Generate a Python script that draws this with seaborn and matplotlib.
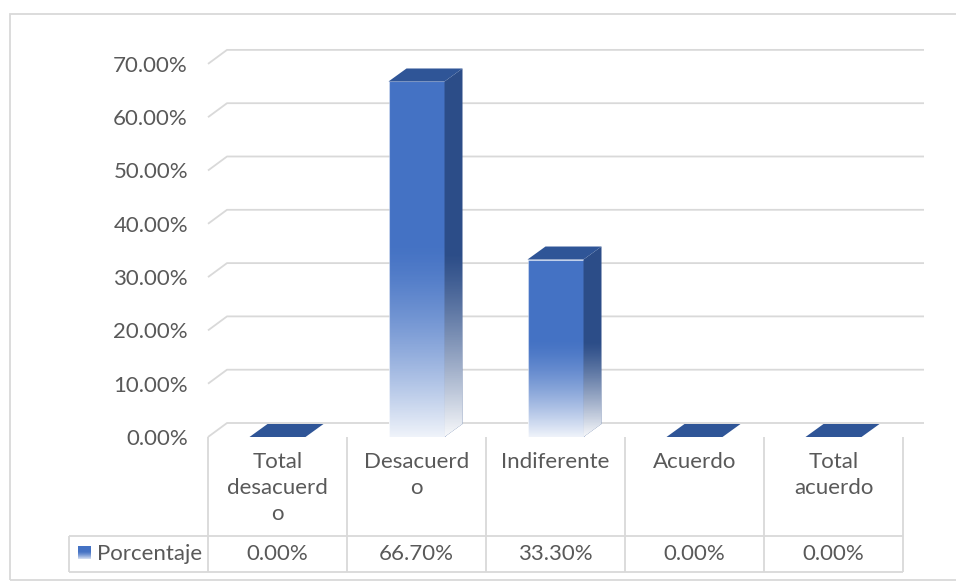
import numpy as np
import matplotlib
matplotlib.use("Agg")
import matplotlib.pyplot as plt
import seaborn as sns
import pandas as pd
from matplotlib.patches import Polygon, Rectangle

# ---- data ----
categories = ["Total desacuerdo", "Desacuerdo", "Indiferente", "Acuerdo", "Total acuerdo"]
category_labels = ["Total\ndesacuerd\no", "Desacuerd\no", "Indiferente", "Acuerdo", "Total\nacuerdo"]
values = [0.0, 66.7, 33.3, 0.0, 0.0]
value_labels = ["0.00%", "66.70%", "33.30%", "0.00%", "0.00%"]
series_name = "Porcentaje"
yticks = [0, 10, 20, 30, 40, 50, 60, 70]
ytick_labels = ["0.00%", "10.00%", "20.00%", "30.00%", "40.00%", "50.00%", "60.00%", "70.00%"]

# ---- style ----
sns.set_theme(style="white")
plt.rcParams["font.family"] = ["Lato", "DejaVu Sans"]
TXT = "#595959"
GRID = "#D9D9D9"
FRONT = "#4472C4"
SIDE = "#2C4D88"
TOP = "#2F5597"
FS = 16

W, H = 956, 582
fig = plt.figure(figsize=(W / 100, H / 100), dpi=100)
PX = 5.33            # pixels per percent
COLW = 139.0         # pixels per category
x_left, x_right = 208, 903
y0 = 437
ymax = 80
top_px = y0 - ymax * PX
ax = fig.add_axes([x_left / W, (H - y0) / H, (x_right - x_left) / W, (y0 - top_px) / H])

def py(px):
    return (y0 - px) / PX

def pxw(px):
    return px / COLW

df = pd.DataFrame({"cat": categories, "val": values})
sns.barplot(data=df, x="cat", y="val", color=FRONT, saturation=1, width=56 / COLW,
            edgecolor="none", ax=ax, zorder=3)
ax.set_xlim(-0.5, 4.5)
ax.set_ylim(0, ymax)

bdx = pxw(18)
bdy = 13 / PX

def white_fade(n=256, top_frac=0.55, amax=0.92, power=1.4):
    t = np.linspace(0, 1, n)
    s = np.clip((top_frac - t) / top_frac, 0, 1)
    a = s ** power * amax
    g = np.ones((n, 1, 4))
    g[:, 0, 3] = a
    return g

bars = list(ax.patches)
for p in bars:
    x0 = p.get_x(); w = p.get_width(); h = p.get_height()
    x1 = x0 + w
    side = Polygon([(x1, 0), (x1 + bdx, bdy), (x1 + bdx, h + bdy), (x1, h)],
                   closed=True, facecolor=SIDE, edgecolor="none", zorder=3, clip_on=False)
    ax.add_patch(side)
    top = Polygon([(x0, h), (x0 + bdx, h + bdy), (x1 + bdx, h + bdy), (x1, h)],
                  closed=True, facecolor=TOP, edgecolor="none", zorder=3.5, clip_on=False)
    ax.add_patch(top)
    if h > 0:
        im = ax.imshow(white_fade(), extent=[x0, x1, 0, h], origin="lower",
                       aspect="auto", zorder=3.2, interpolation="bilinear")
        im.set_clip_path(p)
        im2 = ax.imshow(white_fade(top_frac=0.5, amax=0.97, power=1.2),
                        extent=[x1, x1 + bdx, 0, h + bdy], origin="lower",
                        aspect="auto", zorder=3.2, interpolation="bilinear")
        im2.set_clip_path(side)
        p.set_edgecolor((1, 1, 1, 0.35)); p.set_linewidth(0.8)

ax.set_xlim(-0.5, 4.5)
ax.set_ylim(0, ymax)

# back wall gridlines with left-wall diagonal
wdx = pxw(19)
wdy = 14 / PX
xr = (924 - x_left) / COLW - 0.5
for v in yticks:
    ax.plot([-0.5, -0.5 + wdx, xr], [v, v + wdy, v + wdy], color=GRID, lw=1.3,
            clip_on=False, zorder=1, solid_capstyle="butt")

# y axis labels
ax.set_yticks(yticks)
ax.set_yticklabels(ytick_labels)
ax.tick_params(axis="y", length=0, pad=20 * 72 / 100, labelsize=FS, labelcolor=TXT)
ax.set_xticks([])
ax.set_xlabel("")
ax.set_ylabel("")
ax.grid(False)
sns.despine(ax=ax, left=True, bottom=True)

# data table
lk = dict(color=GRID, lw=1.3, clip_on=False, zorder=1, solid_capstyle="butt")
for k in range(6):
    xv = k - 0.5
    ax.plot([xv, xv], [py(437), py(572)], **lk)
ax.plot([-1.5, -1.5], [py(536), py(572)], **lk)
for yy in (536, 572):
    ax.plot([-1.5, 4.5], [py(yy), py(yy)], **lk)

for i, lab in enumerate(category_labels):
    ax.text(i, py(452), lab, ha="center", va="top", fontsize=FS, color=TXT,
            linespacing=1.38, clip_on=False)
for i, lab in enumerate(value_labels):
    ax.text(i, py(554), lab, ha="center", va="center", fontsize=FS, color=TXT, clip_on=False)

# legend key + series name
kx0 = -0.5 - pxw(208 - 78)
kx1 = -0.5 - pxw(208 - 91)
key = Rectangle((kx0, py(559)), kx1 - kx0, py(546) - py(559), facecolor=FRONT,
                edgecolor="none", clip_on=False, zorder=3)
ax.add_patch(key)
kim = ax.imshow(white_fade(top_frac=0.6, amax=0.8), extent=[kx0, kx1, py(559), py(546)],
                origin="lower", aspect="auto", zorder=3.2)
kim.set_clip_path(key)
ax.text(-0.5 - pxw(208 - 97), py(554), series_name, ha="left", va="center",
        fontsize=FS, color=TXT, clip_on=False)

ax.set_xlim(-0.5, 4.5)
ax.set_ylim(0, ymax)

# outer chart frame
fig.patches.append(Rectangle((10 / W, 2 / H), (W + 5) / W, (H - 16) / H, fill=False,
                             edgecolor=GRID, lw=1.3, transform=fig.transFigure))

fig.savefig("out.png", dpi=100)
